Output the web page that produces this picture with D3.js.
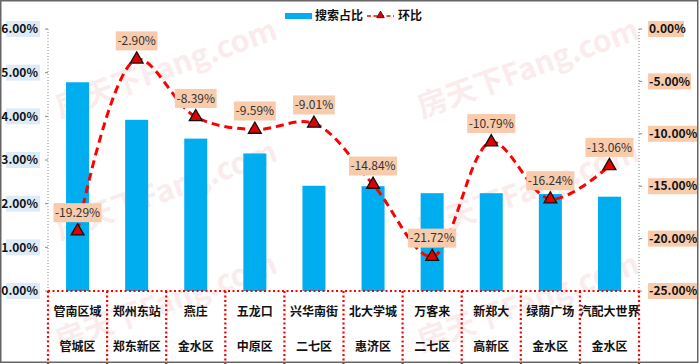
<!DOCTYPE html>
<html><head><meta charset="utf-8">
<script src="https://cdn.jsdelivr.net/npm/d3@7"></script>
<style>body{margin:0;background:#fff}svg{display:block}</style>
</head><body><svg id="c" width="700" height="364"></svg>
<script>
const categories = ["管南区域","郑州东站","燕庄","五龙口","兴华南街","北大学城","万客来","新郑大","绿荫广场","汽配大世界"];
const districts = ["管城区","郑东新区","金水区","中原区","二七区","惠济区","二七区","高新区","金水区","金水区"];
const shareValues = [4.78, 3.92, 3.49, 3.15, 2.41, 2.40, 2.24, 2.24, 2.22, 2.16];
const momValues = [-19.29, -2.90, -8.39, -9.59, -9.01, -14.84, -21.72, -10.79, -16.24, -13.06];
const leftTicks = [0,1,2,3,4,5,6];
const rightTicks = [0,-5,-10,-15,-20,-25];
const seriesNames = ["搜索占比","环比"];

const svg = d3.select("#c");
const W=700,H=364;
const plot = {l:48, r:639, t:29, b:291};
const font = "'Noto Sans CJK SC','Noto Sans',sans-serif";

// watermark
const wmG = svg.append("g");
[[60,118],[422,118],[60,240],[422,240],[60,352],[422,352]].forEach(([x,y])=>{
  wmG.append("text").attr("transform",`translate(${x},${y}) rotate(-20)`)
    .attr("font-family",font).attr("font-size",30).attr("font-weight","bold")
    .attr("fill","#e07070").attr("opacity",0.13).text("房天下Fang.com");
});

const x = d3.scaleBand().domain(categories).range([plot.l,plot.r]).paddingInner(0).paddingOuter(0);
const yL = d3.scaleLinear().domain([0,6]).range([plot.b,plot.t]);
const yR = d3.scaleLinear().domain([-25,0]).range([plot.b,plot.t]);

// axes lines (gray dotted)
[plot.l, plot.r].forEach(px=>{
  svg.append("line").attr("x1",px).attr("x2",px).attr("y1",plot.t).attr("y2",plot.b)
    .attr("stroke","#888").attr("stroke-width",1).attr("stroke-dasharray","1,2");
});

// left axis labels
const la = svg.append("g");
leftTicks.forEach(t=>{
  const y=yL(t);
  la.append("line").attr("x1",plot.l-3).attr("x2",plot.l).attr("y1",y).attr("y2",y).attr("stroke","#888");
  la.append("rect").attr("x",6).attr("y",y-8).attr("width",34).attr("height",16).attr("fill","#DDEBF7");
  la.append("text").attr("x",38).attr("y",y).attr("dy","0.35em").attr("text-anchor","end")
    .attr("font-family",font).attr("font-size",12).attr("font-weight","bold").attr("fill","#111")
    .text(t.toFixed(2)+"%");
});
// right axis labels
const ra = svg.append("g");
rightTicks.forEach(t=>{
  const y=yR(t);
  ra.append("line").attr("x1",plot.r).attr("x2",plot.r+3).attr("y1",y).attr("y2",y).attr("stroke","#888");
  const txt = t===0?"0.00%":t.toFixed(2)+"%";
  const w = txt.length*7+1;
  ra.append("rect").attr("x",648).attr("y",y-8).attr("width",w).attr("height",16).attr("fill","#F8CBAD");
  ra.append("text").attr("x",649).attr("y",y).attr("dy","0.35em").attr("text-anchor","start")
    .attr("font-family",font).attr("font-size",12).attr("font-weight","bold").attr("fill","#111")
    .text(txt);
});

// bars
const bw = 23;
svg.append("g").selectAll("rect").data(shareValues).join("rect")
  .attr("x",(d,i)=>x(categories[i])+x.bandwidth()/2-bw/2)
  .attr("y",d=>yL(d)).attr("width",bw).attr("height",d=>plot.b-yL(d))
  .attr("fill","#00AEEF");

// category grid (red dotted)
const cg = svg.append("g");
cg.append("line").attr("x1",plot.l).attr("x2",plot.r).attr("y1",plot.b).attr("y2",plot.b)
  .attr("stroke","#FF0000").attr("stroke-width",2.2).attr("stroke-dasharray","2,2.5");
categories.concat(["__end"]).forEach((c,i)=>{
  const px = i<categories.length ? x(c) : plot.r;
  cg.append("line").attr("x1",px).attr("x2",px).attr("y1",plot.b).attr("y2",H)
    .attr("stroke","#FF0000").attr("stroke-width",2.2).attr("stroke-dasharray","2,2.5");
});
categories.forEach((c,i)=>{
  const cx = x(c)+x.bandwidth()/2;
  cg.append("text").attr("x",cx).attr("y",312).attr("dy","0.35em").attr("text-anchor","middle")
    .attr("font-family",font).attr("font-size",12).attr("font-weight","bold").attr("fill","#111").text(c);
  cg.append("text").attr("x",cx).attr("y",347).attr("dy","0.35em").attr("text-anchor","middle")
    .attr("font-family",font).attr("font-size",12).attr("font-weight","bold").attr("fill","#111").text(districts[i]);
});

// line
const pts = momValues.map((v,i)=>[x(categories[i])+x.bandwidth()/2, yR(v)]);
svg.append("path").attr("d",d3.line().curve(d3.curveCatmullRom.alpha(0.5))(pts))
  .attr("fill","none").attr("stroke","#FF0000").attr("stroke-width",3).attr("stroke-dasharray","8,5");
const tri = d3.symbol().type(d3.symbolTriangle).size(72);
svg.append("g").selectAll("path").data(pts).join("path")
  .attr("transform",d=>`translate(${d[0]},${d[1]})`).attr("d",tri)
  .attr("fill","#E00000").attr("stroke","#111").attr("stroke-width",1.3);

// data labels
const dl = svg.append("g");
momValues.forEach((v,i)=>{
  const [px,py]=pts[i];
  const txt = v.toFixed(2)+"%";
  const w = txt.length*6.3+4;
  dl.append("rect").attr("x",px-w/2).attr("y",py-28).attr("width",w).attr("height",19).attr("fill","#F8CBAD");
  dl.append("text").attr("x",px).attr("y",py-18.5).attr("dy","0.35em").attr("text-anchor","middle")
    .attr("font-family",font).attr("font-size",12).attr("fill","#333").text(txt);
});

// legend
const lg = svg.append("g");
lg.append("rect").attr("x",285).attr("y",13).attr("width",27).attr("height",6).attr("fill","#00AEEF");
lg.append("text").attr("x",315).attr("y",16).attr("dy","0.35em").attr("font-family",font)
  .attr("font-size",12).attr("font-weight","bold").attr("fill","#111").text(seriesNames[0]);
lg.append("line").attr("x1",367).attr("x2",394).attr("y1",16).attr("y2",16)
  .attr("stroke","#FF0000").attr("stroke-width",1.5).attr("stroke-dasharray","4,2.5");
lg.append("path").attr("transform","translate(380.5,15.5)").attr("d",d3.symbol().type(d3.symbolTriangle).size(25))
  .attr("fill","#E00000").attr("stroke","#111").attr("stroke-width",0.8);
lg.append("text").attr("x",398).attr("y",16).attr("dy","0.35em").attr("font-family",font)
  .attr("font-size",12).attr("font-weight","bold").attr("fill","#111").text(seriesNames[1]);

// frame
svg.append("rect").attr("x",0.75).attr("y",0.75).attr("width",697).attr("height",361.5)
  .attr("fill","none").attr("stroke","#666").attr("stroke-width",1.5);
</script></body></html>
